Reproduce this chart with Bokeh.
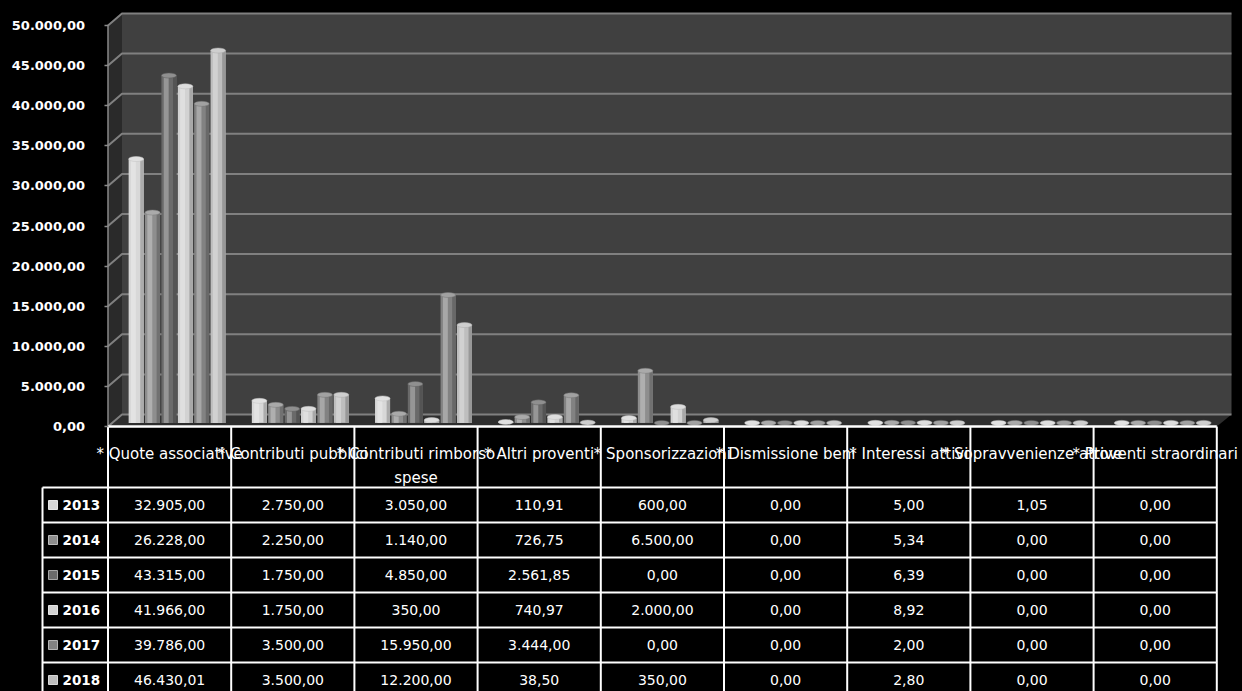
from bokeh.plotting import figure
from bokeh.models import Range1d, FixedTicker, ColumnDataSource, GlobalInlineStyleSheet
from bokeh.embed import file_html
from bokeh.resources import INLINE
from bokeh.core.properties import value

# ---------------- data ----------------
categories = [
    "* Quote associative",
    "* Contributi pubblici",
    "* Contributi rimborso\nspese",
    "* Altri proventi",
    "* Sponsorizzazioni",
    "* Dismissione beni",
    "* Interessi attivi",
    "* Sopravvenienze attive",
    "* Proventi straordinari",
]
years = ["2013", "2014", "2015", "2016", "2017", "2018"]
v2013 = [32905.00, 2750.00, 3050.00, 110.91, 600.00, 0.00, 5.00, 1.05, 0.00]
v2014 = [26228.00, 2250.00, 1140.00, 726.75, 6500.00, 0.00, 5.34, 0.00, 0.00]
v2015 = [43315.00, 1750.00, 4850.00, 2561.85, 0.00, 0.00, 6.39, 0.00, 0.00]
v2016 = [41966.00, 1750.00, 350.00, 740.97, 2000.00, 0.00, 8.92, 0.00, 0.00]
v2017 = [39786.00, 3500.00, 15950.00, 3444.00, 0.00, 0.00, 2.00, 0.00, 0.00]
v2018 = [46430.01, 3500.00, 12200.00, 38.50, 350.00, 0.00, 2.80, 0.00, 0.00]
series = [v2013, v2014, v2015, v2016, v2017, v2018]
y_ticks = [0, 5000, 10000, 15000, 20000, 25000, 30000, 35000, 40000, 45000, 50000]
y_tick_labels = ["0,00", "5.000,00", "10.000,00", "15.000,00", "20.000,00", "25.000,00",
                 "30.000,00", "35.000,00", "40.000,00", "45.000,00", "50.000,00"]

# ---------------- styles ----------------
year_colors = ["#d8d8d8", "#8e8e8e", "#6a6a6a", "#d2d2d2", "#828282", "#bebebe"]


def shade(hexc, f):
    r, g, b = int(hexc[1:3], 16), int(hexc[3:5], 16), int(hexc[5:7], 16)
    if f >= 0:
        r, g, b = [int(c + (255 - c) * f) for c in (r, g, b)]
    else:
        r, g, b = [int(c * (1 + f)) for c in (r, g, b)]
    return "#%02x%02x%02x" % (r, g, b)


def it_fmt(v):
    s = f"{v:,.2f}"
    return s.replace(",", "X").replace(".", ",").replace("X", ".")


FONT = value("DejaVu Sans")
n_cat = len(categories)
n_y = len(years)

W, H = 1242, 691
CW = 123.2          # px per category column
UPX = 124.69        # value units per px
X_AX, Y_AX = 107.5, 426.0   # pixel position of the front axis origin
X0, X1 = -X_AX / CW, (W - X_AX) / CW
Y0, Y1 = -(H - Y_AX) * UPX, Y_AX * UPX

DX, DY = 14 / CW, 12 * UPX      # depth of the 3D box
XW = (1231 - X_AX) / CW         # right end of back wall
BASE = 3.6 * UPX                # bars sit at mid depth
HDR = 61 * UPX                  # header row height
RH = 35 * UPX                   # table row height
LEG_L = (42 - X_AX) / CW        # left edge of legend column

p = figure(width=W, height=H, x_range=Range1d(X0, X1), y_range=Range1d(Y0, Y1),
           output_backend="svg", toolbar_location=None, min_border=0,
           background_fill_color="#000000", border_fill_color="#000000",
           outline_line_color=None)
p.xaxis.visible = False
p.grid.visible = False

ya = p.yaxis[0]
ya.fixed_location = 0
ya.ticker = FixedTicker(ticks=y_ticks)
ya.major_label_overrides = {t: l for t, l in zip(y_ticks, y_tick_labels)}
ya.axis_line_color = None
ya.major_tick_line_color = "#8a8a8a"
ya.major_tick_line_width = 1.5
ya.major_tick_out = 4
ya.major_tick_in = 0
ya.minor_tick_line_color = None
ya.major_label_text_color = "#ffffff"
ya.major_label_text_font = "DejaVu Sans"
ya.major_label_text_font_style = "bold"
ya.major_label_text_font_size = "13px"
ya.major_label_standoff = 19

ymax = y_ticks[-1]
# back wall, side wall, floor
p.quad(left=DX, right=XW, bottom=DY, top=ymax + DY, fill_color="#404040", line_color=None)
p.patch([0, DX, DX, 0], [0, DY, ymax + DY, ymax], fill_color="#2a2a2a", line_color=None)
p.patch([0, n_cat, XW, DX], [0, 0, DY, DY], fill_color="#2e2e2e", line_color=None)

# gridlines (side wall diagonal + back wall)
p.multi_line(xs=[[0, DX, XW] for _ in y_ticks], ys=[[t, t + DY, t + DY] for t in y_ticks],
             line_color="#808080", line_width=2)
# front axis line
p.segment(x0=[0], y0=[0], x1=[0], y1=[ymax], line_color="#8a8a8a", line_width=1.5)

# bars
pitch, bw, goff = 0.133, 0.122, 0.061
for j, (vals, col) in enumerate(zip(series, year_colors)):
    xs = [i + 0.5 + goff + (j - 2.5) * pitch for i in range(n_cat)]
    tops = [v + BASE for v in vals]
    src = ColumnDataSource(dict(x=xs, top=tops, bottom=[BASE] * n_cat))
    p.vbar(x="x", top="top", bottom="bottom", width=bw, source=src,
           fill_color=col, line_color=None)
    src_h = ColumnDataSource(dict(x=[x - 0.022 for x in xs], top=tops, bottom=[BASE] * n_cat))
    p.vbar(x="x", top="top", bottom="bottom", width=0.04, source=src_h,
           fill_color=shade(col, 0.3), line_color=None)
    src_s = ColumnDataSource(dict(x=[x + 0.047 for x in xs], top=tops, bottom=[BASE] * n_cat))
    p.vbar(x="x", top="top", bottom="bottom", width=0.028, source=src_s,
           fill_color=shade(col, -0.2), line_color=None)
    p.ellipse(x=xs, y=tops, width=bw, height=5, height_units="screen",
              fill_color=shade(col, 0.25), line_color=shade(col, -0.1), line_width=0.5)

# ---------------- data table ----------------
row_lines = [-HDR - r * RH for r in range(n_y + 1)]
# top line of header
p.segment(x0=[0], y0=[0], x1=[n_cat], y1=[0], line_color="#ffffff", line_width=2.5)
# horizontal row lines
p.segment(x0=[LEG_L] * len(row_lines), y0=row_lines, x1=[n_cat] * len(row_lines), y1=row_lines,
          line_color="#ffffff", line_width=2)
# vertical column lines
p.segment(x0=list(range(n_cat + 1)), y0=[0] * (n_cat + 1), x1=list(range(n_cat + 1)),
          y1=[row_lines[-1]] * (n_cat + 1), line_color="#ffffff", line_width=2)
p.segment(x0=[LEG_L], y0=[row_lines[0]], x1=[LEG_L], y1=[row_lines[-1]],
          line_color="#ffffff", line_width=2)

# header labels
line_y = [-(453 - Y_AX) * UPX, -(477 - Y_AX) * UPX]
hx, hy, ht = [], [], []
for i, c in enumerate(categories):
    for k, ln in enumerate(c.split("\n")):
        hx.append(i + 0.5)
        hy.append(line_y[k])
        ht.append(ln)
p.text(x=hx, y=hy, text=ht, text_align="center", text_baseline="middle",
       text_color="#ffffff", text_font=FONT, text_font_size="15px")

# values
vx, vy, vt = [], [], []
for r, vals in enumerate(series):
    for i, v in enumerate(vals):
        vx.append(i + 0.5)
        vy.append(-HDR - (r + 0.5) * RH)
        vt.append(it_fmt(v))
p.text(x=vx, y=vy, text=vt, text_align="center", text_baseline="middle",
       text_color="#ffffff", text_font=FONT, text_font_size="14px")

# legend column
ry = [-HDR - (r + 0.5) * RH for r in range(n_y)]
p.text(x=[(62 - X_AX) / CW] * n_y, y=ry, text=years, text_align="left", text_baseline="middle",
       text_color="#ffffff", text_font=FONT, text_font_size="13.5px", text_font_style="bold")
p.scatter(x=[(52.5 - X_AX) / CW] * n_y, y=ry, marker="square", size=9,
          fill_color=year_colors, line_color=[shade(c, 0.4) for c in year_colors], line_width=1)

p.stylesheets = [GlobalInlineStyleSheet(css="body { background-color: #000000; }")]

open("out.html", "w").write(file_html(p, INLINE))
